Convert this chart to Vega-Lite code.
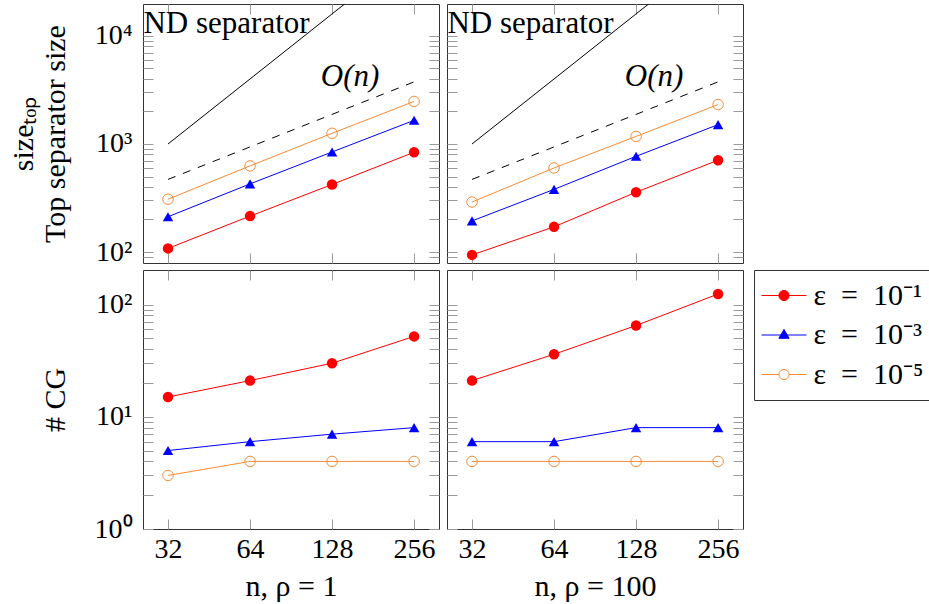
{
  "$schema": "https://vega.github.io/schema/vega-lite/v6.json",
  "padding": {"left": 7, "top": 3, "right": 0, "bottom": 0},
  "datasets": {
    "series": [
      {"rho": 1, "n": 32, "eps": "e1", "size": 108, "cg": 15},
      {"rho": 1, "n": 32, "eps": "e3", "size": 212, "cg": 5},
      {"rho": 1, "n": 32, "eps": "e5", "size": 308, "cg": 3},
      {"rho": 1, "n": 64, "eps": "e1", "size": 215, "cg": 21},
      {"rho": 1, "n": 64, "eps": "e3", "size": 427, "cg": 6},
      {"rho": 1, "n": 64, "eps": "e5", "size": 627, "cg": 4},
      {"rho": 1, "n": 128, "eps": "e1", "size": 422, "cg": 30},
      {"rho": 1, "n": 128, "eps": "e3", "size": 843, "cg": 7},
      {"rho": 1, "n": 128, "eps": "e5", "size": 1256, "cg": 4},
      {"rho": 1, "n": 256, "eps": "e1", "size": 838, "cg": 52},
      {"rho": 1, "n": 256, "eps": "e3", "size": 1656, "cg": 8},
      {"rho": 1, "n": 256, "eps": "e5", "size": 2477, "cg": 4},
      {"rho": 100, "n": 32, "eps": "e1", "size": 94, "cg": 21},
      {"rho": 100, "n": 32, "eps": "e3", "size": 194, "cg": 6},
      {"rho": 100, "n": 32, "eps": "e5", "size": 290, "cg": 4},
      {"rho": 100, "n": 64, "eps": "e1", "size": 171, "cg": 36},
      {"rho": 100, "n": 64, "eps": "e3", "size": 380, "cg": 6},
      {"rho": 100, "n": 64, "eps": "e5", "size": 600, "cg": 4},
      {"rho": 100, "n": 128, "eps": "e1", "size": 358, "cg": 65},
      {"rho": 100, "n": 128, "eps": "e3", "size": 769, "cg": 8},
      {"rho": 100, "n": 128, "eps": "e5", "size": 1175, "cg": 4},
      {"rho": 100, "n": 256, "eps": "e1", "size": 708, "cg": 124},
      {"rho": 100, "n": 256, "eps": "e3", "size": 1510, "cg": 8},
      {"rho": 100, "n": 256, "eps": "e5", "size": 2317, "cg": 4}
    ],
    "guides": [
      {"kind": "on", "n": 32, "v": 470},
      {"kind": "on", "n": 256, "v": 3760},
      {"kind": "nd", "n": 32, "v": 1000},
      {"kind": "nd", "n": 256, "v": 64000}
    ],
    "notes": [
      {"kind": "nd", "label": "ND separator", "n": 26, "v": 10660},
      {"kind": "on", "label": "O(n)", "n": 149, "v": 3440}
    ]
  },
  "columns": 2,
  "align": "each",
  "bounds": "flush",
  "spacing": {"row": 7, "column": 8},
  "resolve": {
    "scale": {"color": "independent", "fill": "independent", "stroke": "independent", "shape": "independent"},
    "legend": {"color": "independent", "fill": "independent", "stroke": "independent", "shape": "independent"}
  },
  "concat": [
    {
      "width": 296, "height": 259,
      "layer": [
        {"data": {"name": "guides"}, "transform": [{"filter": "datum.kind == 'on'"}],
         "mark": {"type": "line", "color": "black", "strokeWidth": 1, "strokeDash": [8, 8]},
         "encoding": {"x": {"field": "n", "type": "quantitative", "scale": {"type": "log", "base": 2, "domain": [25.9, 316], "nice": false}, "axis": null},
                      "y": {"field": "v", "type": "quantitative", "scale": {"type": "log", "domain": [79.1, 19770], "nice": false}, "axis": null}}},
        {"data": {"name": "guides"}, "transform": [{"filter": "datum.kind == 'nd'"}],
         "mark": {"type": "line", "color": "black", "strokeWidth": 1, "clip": true},
         "encoding": {"x": {"field": "n", "type": "quantitative", "axis": null},
                      "y": {"field": "v", "type": "quantitative", "axis": null}}},
        {"data": {"name": "notes"}, "transform": [{"filter": "datum.kind == 'nd'"}],
         "mark": {"type": "text", "align": "left", "baseline": "alphabetic", "fontSize": 31, "font": "Liberation Serif", "color": "black"},
         "encoding": {"x": {"field": "n", "type": "quantitative", "axis": null},
                      "y": {"field": "v", "type": "quantitative", "axis": null},
                      "text": {"field": "label"}}},
        {"data": {"name": "notes"}, "transform": [{"filter": "datum.kind == 'on'"}],
         "mark": {"type": "text", "align": "center", "baseline": "alphabetic", "fontSize": 31, "font": "Liberation Serif", "fontStyle": "italic", "color": "black"},
         "encoding": {"x": {"field": "n", "type": "quantitative", "axis": null},
                      "y": {"field": "v", "type": "quantitative", "axis": null},
                      "text": {"field": "label"}}},
        {"data": {"name": "series"}, "transform": [{"filter": "datum.rho == 1"}],
         "mark": {"type": "line", "strokeWidth": 1},
         "encoding": {
           "x": {"field": "n", "type": "quantitative", "axis": {"orient": "bottom", "values": [32, 64, 128, 256], "labels": false, "title": null}},
           "y": {"field": "size", "type": "quantitative", "axis": {"orient": "left", "values": [90, 100, 200, 300, 400, 500, 600, 700, 800, 900, 1000, 2000, 3000, 4000, 5000, 6000, 7000, 8000, 9000, 10000], "labelExpr": "datum.value == 100 ? '10²' : datum.value == 1000 ? '10³' : datum.value == 10000 ? '10⁴' : ''", "labelPadding": 21, "title": ["sizeₜₒₚ", "Top separator size"], "titlePadding": 24}},
           "color": {"field": "eps", "type": "nominal", "scale": {"domain": ["e1", "e3", "e5"], "range": ["#ff0000", "#0000ff", "#f88a35"]}, "legend": null}}},
        {"data": {"name": "series"}, "transform": [{"filter": "datum.rho == 1 && datum.eps == 'e1'"}],
         "mark": {"type": "point", "shape": "circle", "size": 110, "strokeWidth": 1, "opacity": 1, "filled": true, "color": "#ff0000"},
         "encoding": {
           "x": {"field": "n", "type": "quantitative", "axis": {"orient": "top", "values": [32, 64, 128, 256], "labels": false, "title": null}},
           "y": {"field": "size", "type": "quantitative", "axis": {"orient": "right", "values": [90, 100, 200, 300, 400, 500, 600, 700, 800, 900, 1000, 2000, 3000, 4000, 5000, 6000, 7000, 8000, 9000, 10000], "labels": false, "title": null}}}},
        {"data": {"name": "series"}, "transform": [{"filter": "datum.rho == 1 && datum.eps == 'e3'"}],
         "mark": {"type": "point", "shape": "triangle-up", "size": 110, "strokeWidth": 1, "opacity": 1, "filled": true, "color": "#0000ff"},
         "encoding": {"x": {"field": "n", "type": "quantitative", "axis": null}, "y": {"field": "size", "type": "quantitative", "axis": null}}},
        {"data": {"name": "series"}, "transform": [{"filter": "datum.rho == 1 && datum.eps == 'e5'"}],
         "mark": {"type": "point", "shape": "circle", "size": 110, "strokeWidth": 1, "opacity": 1, "filled": false, "color": "#f88a35"},
         "encoding": {"x": {"field": "n", "type": "quantitative", "axis": null}, "y": {"field": "size", "type": "quantitative", "axis": null}}}
      ],
      "resolve": {"axis": {"x": "independent", "y": "independent"}}
    },
    {
      "width": 296, "height": 259,
      "layer": [
        {"data": {"name": "guides"}, "transform": [{"filter": "datum.kind == 'on'"}],
         "mark": {"type": "line", "color": "black", "strokeWidth": 1, "strokeDash": [8, 8]},
         "encoding": {"x": {"field": "n", "type": "quantitative", "scale": {"type": "log", "base": 2, "domain": [25.9, 316], "nice": false}, "axis": null},
                      "y": {"field": "v", "type": "quantitative", "scale": {"type": "log", "domain": [79.1, 19770], "nice": false}, "axis": null}}},
        {"data": {"name": "guides"}, "transform": [{"filter": "datum.kind == 'nd'"}],
         "mark": {"type": "line", "color": "black", "strokeWidth": 1, "clip": true},
         "encoding": {"x": {"field": "n", "type": "quantitative", "axis": null},
                      "y": {"field": "v", "type": "quantitative", "axis": null}}},
        {"data": {"name": "notes"}, "transform": [{"filter": "datum.kind == 'nd'"}],
         "mark": {"type": "text", "align": "left", "baseline": "alphabetic", "fontSize": 31, "font": "Liberation Serif", "color": "black"},
         "encoding": {"x": {"field": "n", "type": "quantitative", "axis": null},
                      "y": {"field": "v", "type": "quantitative", "axis": null},
                      "text": {"field": "label"}}},
        {"data": {"name": "notes"}, "transform": [{"filter": "datum.kind == 'on'"}],
         "mark": {"type": "text", "align": "center", "baseline": "alphabetic", "fontSize": 31, "font": "Liberation Serif", "fontStyle": "italic", "color": "black"},
         "encoding": {"x": {"field": "n", "type": "quantitative", "axis": null},
                      "y": {"field": "v", "type": "quantitative", "axis": null},
                      "text": {"field": "label"}}},
        {"data": {"name": "series"}, "transform": [{"filter": "datum.rho == 100"}],
         "mark": {"type": "line", "strokeWidth": 1},
         "encoding": {
           "x": {"field": "n", "type": "quantitative", "axis": {"orient": "bottom", "values": [32, 64, 128, 256], "labels": false, "title": null}},
           "y": {"field": "size", "type": "quantitative", "axis": {"orient": "left", "values": [90, 100, 200, 300, 400, 500, 600, 700, 800, 900, 1000, 2000, 3000, 4000, 5000, 6000, 7000, 8000, 9000, 10000], "labels": false, "title": null}},
           "color": {"field": "eps", "type": "nominal", "scale": {"domain": ["e1", "e3", "e5"], "range": ["#ff0000", "#0000ff", "#f88a35"]}, "legend": null}}},
        {"data": {"name": "series"}, "transform": [{"filter": "datum.rho == 100 && datum.eps == 'e1'"}],
         "mark": {"type": "point", "shape": "circle", "size": 110, "strokeWidth": 1, "opacity": 1, "filled": true, "color": "#ff0000"},
         "encoding": {
           "x": {"field": "n", "type": "quantitative", "axis": {"orient": "top", "values": [32, 64, 128, 256], "labels": false, "title": null}},
           "y": {"field": "size", "type": "quantitative", "axis": {"orient": "right", "values": [90, 100, 200, 300, 400, 500, 600, 700, 800, 900, 1000, 2000, 3000, 4000, 5000, 6000, 7000, 8000, 9000, 10000], "labels": false, "title": null}}}},
        {"data": {"name": "series"}, "transform": [{"filter": "datum.rho == 100 && datum.eps == 'e3'"}],
         "mark": {"type": "point", "shape": "triangle-up", "size": 110, "strokeWidth": 1, "opacity": 1, "filled": true, "color": "#0000ff"},
         "encoding": {"x": {"field": "n", "type": "quantitative", "axis": null}, "y": {"field": "size", "type": "quantitative", "axis": null}}},
        {"data": {"name": "series"}, "transform": [{"filter": "datum.rho == 100 && datum.eps == 'e5'"}],
         "mark": {"type": "point", "shape": "circle", "size": 110, "strokeWidth": 1, "opacity": 1, "filled": false, "color": "#f88a35"},
         "encoding": {"x": {"field": "n", "type": "quantitative", "axis": null}, "y": {"field": "size", "type": "quantitative", "axis": null}}}
      ],
      "resolve": {"axis": {"x": "independent", "y": "independent"}}
    },
    {
      "width": 296, "height": 259,
      "layer": [
        {"data": {"name": "series"}, "transform": [{"filter": "datum.rho == 1"}],
         "mark": {"type": "line", "strokeWidth": 1},
         "encoding": {
           "x": {"field": "n", "type": "quantitative", "scale": {"type": "log", "base": 2, "domain": [25.9, 316], "nice": false}, "axis": {"orient": "bottom", "values": [32, 64, 128, 256], "labelPadding": 16, "title": "n, ρ = 1", "titlePadding": 8}},
           "y": {"field": "cg", "type": "quantitative", "scale": {"type": "log", "domain": [1, 203], "nice": false}, "axis": {"orient": "left", "values": [1, 2, 3, 4, 5, 6, 7, 8, 9, 10, 20, 30, 40, 50, 60, 70, 80, 90, 100], "labelExpr": "datum.value == 1 ? '10⁰' : datum.value == 10 ? '10¹' : datum.value == 100 ? '10²' : ''", "labelPadding": 21, "title": "# CG", "titlePadding": 24}},
           "color": {"field": "eps", "type": "nominal", "scale": {"domain": ["e1", "e3", "e5"], "range": ["#ff0000", "#0000ff", "#f88a35"]}, "legend": null}}},
        {"data": {"name": "series"}, "transform": [{"filter": "datum.rho == 1 && datum.eps == 'e1'"}],
         "mark": {"type": "point", "shape": "circle", "size": 110, "strokeWidth": 1, "opacity": 1, "filled": true, "color": "#ff0000"},
         "encoding": {
           "x": {"field": "n", "type": "quantitative", "axis": {"orient": "top", "values": [32, 64, 128, 256], "labels": false, "title": null}},
           "y": {"field": "cg", "type": "quantitative", "axis": {"orient": "right", "values": [1, 2, 3, 4, 5, 6, 7, 8, 9, 10, 20, 30, 40, 50, 60, 70, 80, 90, 100], "labels": false, "title": null}}}},
        {"data": {"name": "series"}, "transform": [{"filter": "datum.rho == 1 && datum.eps == 'e3'"}],
         "mark": {"type": "point", "shape": "triangle-up", "size": 110, "strokeWidth": 1, "opacity": 1, "filled": true, "color": "#0000ff"},
         "encoding": {"x": {"field": "n", "type": "quantitative", "axis": null}, "y": {"field": "cg", "type": "quantitative", "axis": null}}},
        {"data": {"name": "series"}, "transform": [{"filter": "datum.rho == 1 && datum.eps == 'e5'"}],
         "mark": {"type": "point", "shape": "circle", "size": 110, "strokeWidth": 1, "opacity": 1, "filled": false, "color": "#f88a35"},
         "encoding": {"x": {"field": "n", "type": "quantitative", "axis": null}, "y": {"field": "cg", "type": "quantitative", "axis": null}}}
      ],
      "resolve": {"axis": {"x": "independent", "y": "independent"}}
    },
    {
      "width": 296, "height": 259,
      "layer": [
        {"data": {"name": "series"}, "transform": [{"filter": "datum.rho == 100"}],
         "mark": {"type": "line", "strokeWidth": 1},
         "encoding": {
           "x": {"field": "n", "type": "quantitative", "scale": {"type": "log", "base": 2, "domain": [25.9, 316], "nice": false}, "axis": {"orient": "bottom", "values": [32, 64, 128, 256], "labelPadding": 16, "title": "n, ρ = 100", "titlePadding": 8}},
           "y": {"field": "cg", "type": "quantitative", "scale": {"type": "log", "domain": [1, 203], "nice": false}, "axis": {"orient": "left", "values": [1, 2, 3, 4, 5, 6, 7, 8, 9, 10, 20, 30, 40, 50, 60, 70, 80, 90, 100], "labels": false, "title": null}},
           "color": {"field": "eps", "type": "nominal", "scale": {"domain": ["e1", "e3", "e5"], "range": ["#ff0000", "#0000ff", "#f88a35"]},
             "legend": {"title": null, "labelExpr": "datum.value == 'e1' ? 'ε\u2002=\u200210⁻¹' : datum.value == 'e3' ? 'ε\u2002=\u200210⁻³' : 'ε\u2002=\u200210⁻⁵'"}}}},
        {"data": {"name": "series"}, "transform": [{"filter": "datum.rho == 100"}],
         "mark": {"type": "point", "size": 0, "opacity": 1, "strokeWidth": 1},
         "encoding": {
           "x": {"field": "n", "type": "quantitative", "axis": null},
           "y": {"field": "cg", "type": "quantitative", "axis": null},
           "shape": {"field": "eps", "type": "nominal",
             "scale": {"domain": ["e1", "e3", "e5"], "range": [
               "M-1.5,0H1.5M0.34,0A0.34,0.34,0,1,1,-0.34,0A0.34,0.34,0,1,1,0.34,0Z",
               "M-1.5,0H1.5M0,-0.37L0.34,0.22L-0.34,0.22Z",
               "M-1.5,0H-0.34M0.34,0H1.5M0.34,0A0.34,0.34,0,1,1,-0.34,0A0.34,0.34,0,1,1,0.34,0Z"]},
             "legend": null},
           "fill": {"field": "eps", "type": "nominal",
             "scale": {"domain": ["e1", "e3", "e5"], "range": ["#ff0000", "#0000ff", "transparent"]},
             "legend": null},
           "stroke": {"field": "eps", "type": "nominal",
             "scale": {"domain": ["e1", "e3", "e5"], "range": ["#ff0000", "#0000ff", "#f88a35"]},
             "legend": null}
         }},
        {"data": {"name": "series"}, "transform": [{"filter": "datum.rho == 100 && datum.eps == 'e1'"}],
         "mark": {"type": "point", "shape": "circle", "size": 110, "strokeWidth": 1, "opacity": 1, "filled": true, "color": "#ff0000"},
         "encoding": {
           "x": {"field": "n", "type": "quantitative", "axis": {"orient": "top", "values": [32, 64, 128, 256], "labels": false, "title": null}},
           "y": {"field": "cg", "type": "quantitative", "axis": {"orient": "right", "values": [1, 2, 3, 4, 5, 6, 7, 8, 9, 10, 20, 30, 40, 50, 60, 70, 80, 90, 100], "labels": false, "title": null}}}},
        {"data": {"name": "series"}, "transform": [{"filter": "datum.rho == 100 && datum.eps == 'e3'"}],
         "mark": {"type": "point", "shape": "triangle-up", "size": 110, "strokeWidth": 1, "opacity": 1, "filled": true, "color": "#0000ff"},
         "encoding": {"x": {"field": "n", "type": "quantitative", "axis": null}, "y": {"field": "cg", "type": "quantitative", "axis": null}}},
        {"data": {"name": "series"}, "transform": [{"filter": "datum.rho == 100 && datum.eps == 'e5'"}],
         "mark": {"type": "point", "shape": "circle", "size": 110, "strokeWidth": 1, "opacity": 1, "filled": false, "color": "#f88a35"},
         "encoding": {"x": {"field": "n", "type": "quantitative", "axis": null}, "y": {"field": "cg", "type": "quantitative", "axis": null}}}
      ],
      "resolve": {"axis": {"x": "independent", "y": "independent"}}
    }
  ],
  "config": {
    "background": "white",
    "view": {"stroke": "#333333", "strokeWidth": 1},
    "font": "Liberation Serif",
    "axis": {
      "grid": false, "domain": false, "ticks": true, "tickSize": -10, "tickColor": "#9a9a9a", "tickWidth": 1,
      "labelFont": "Liberation Serif", "labelFontSize": 28, "labelColor": "black",
      "labelOverlap": false, "labelFlush": false, "labelBound": false,
      "titleFont": "Liberation Serif", "titleFontSize": 30, "titleFontWeight": "normal", "titleColor": "black"
    },
    "legend": {
      "orient": "right", "offset": 10, "padding": 10,
      "strokeColor": "#333333", "strokeWidth": 1, "fillColor": "white",
      "labelFont": "Liberation Serif", "labelFontSize": 30, "labelColor": "black",
      "labelOffset": 14, "symbolOffset": 4.5, "rowPadding": 8.5, "labelLimit": 400,
      "symbolSize": 900, "symbolStrokeWidth": 1, "symbolOpacity": 1
    }
  }
}
